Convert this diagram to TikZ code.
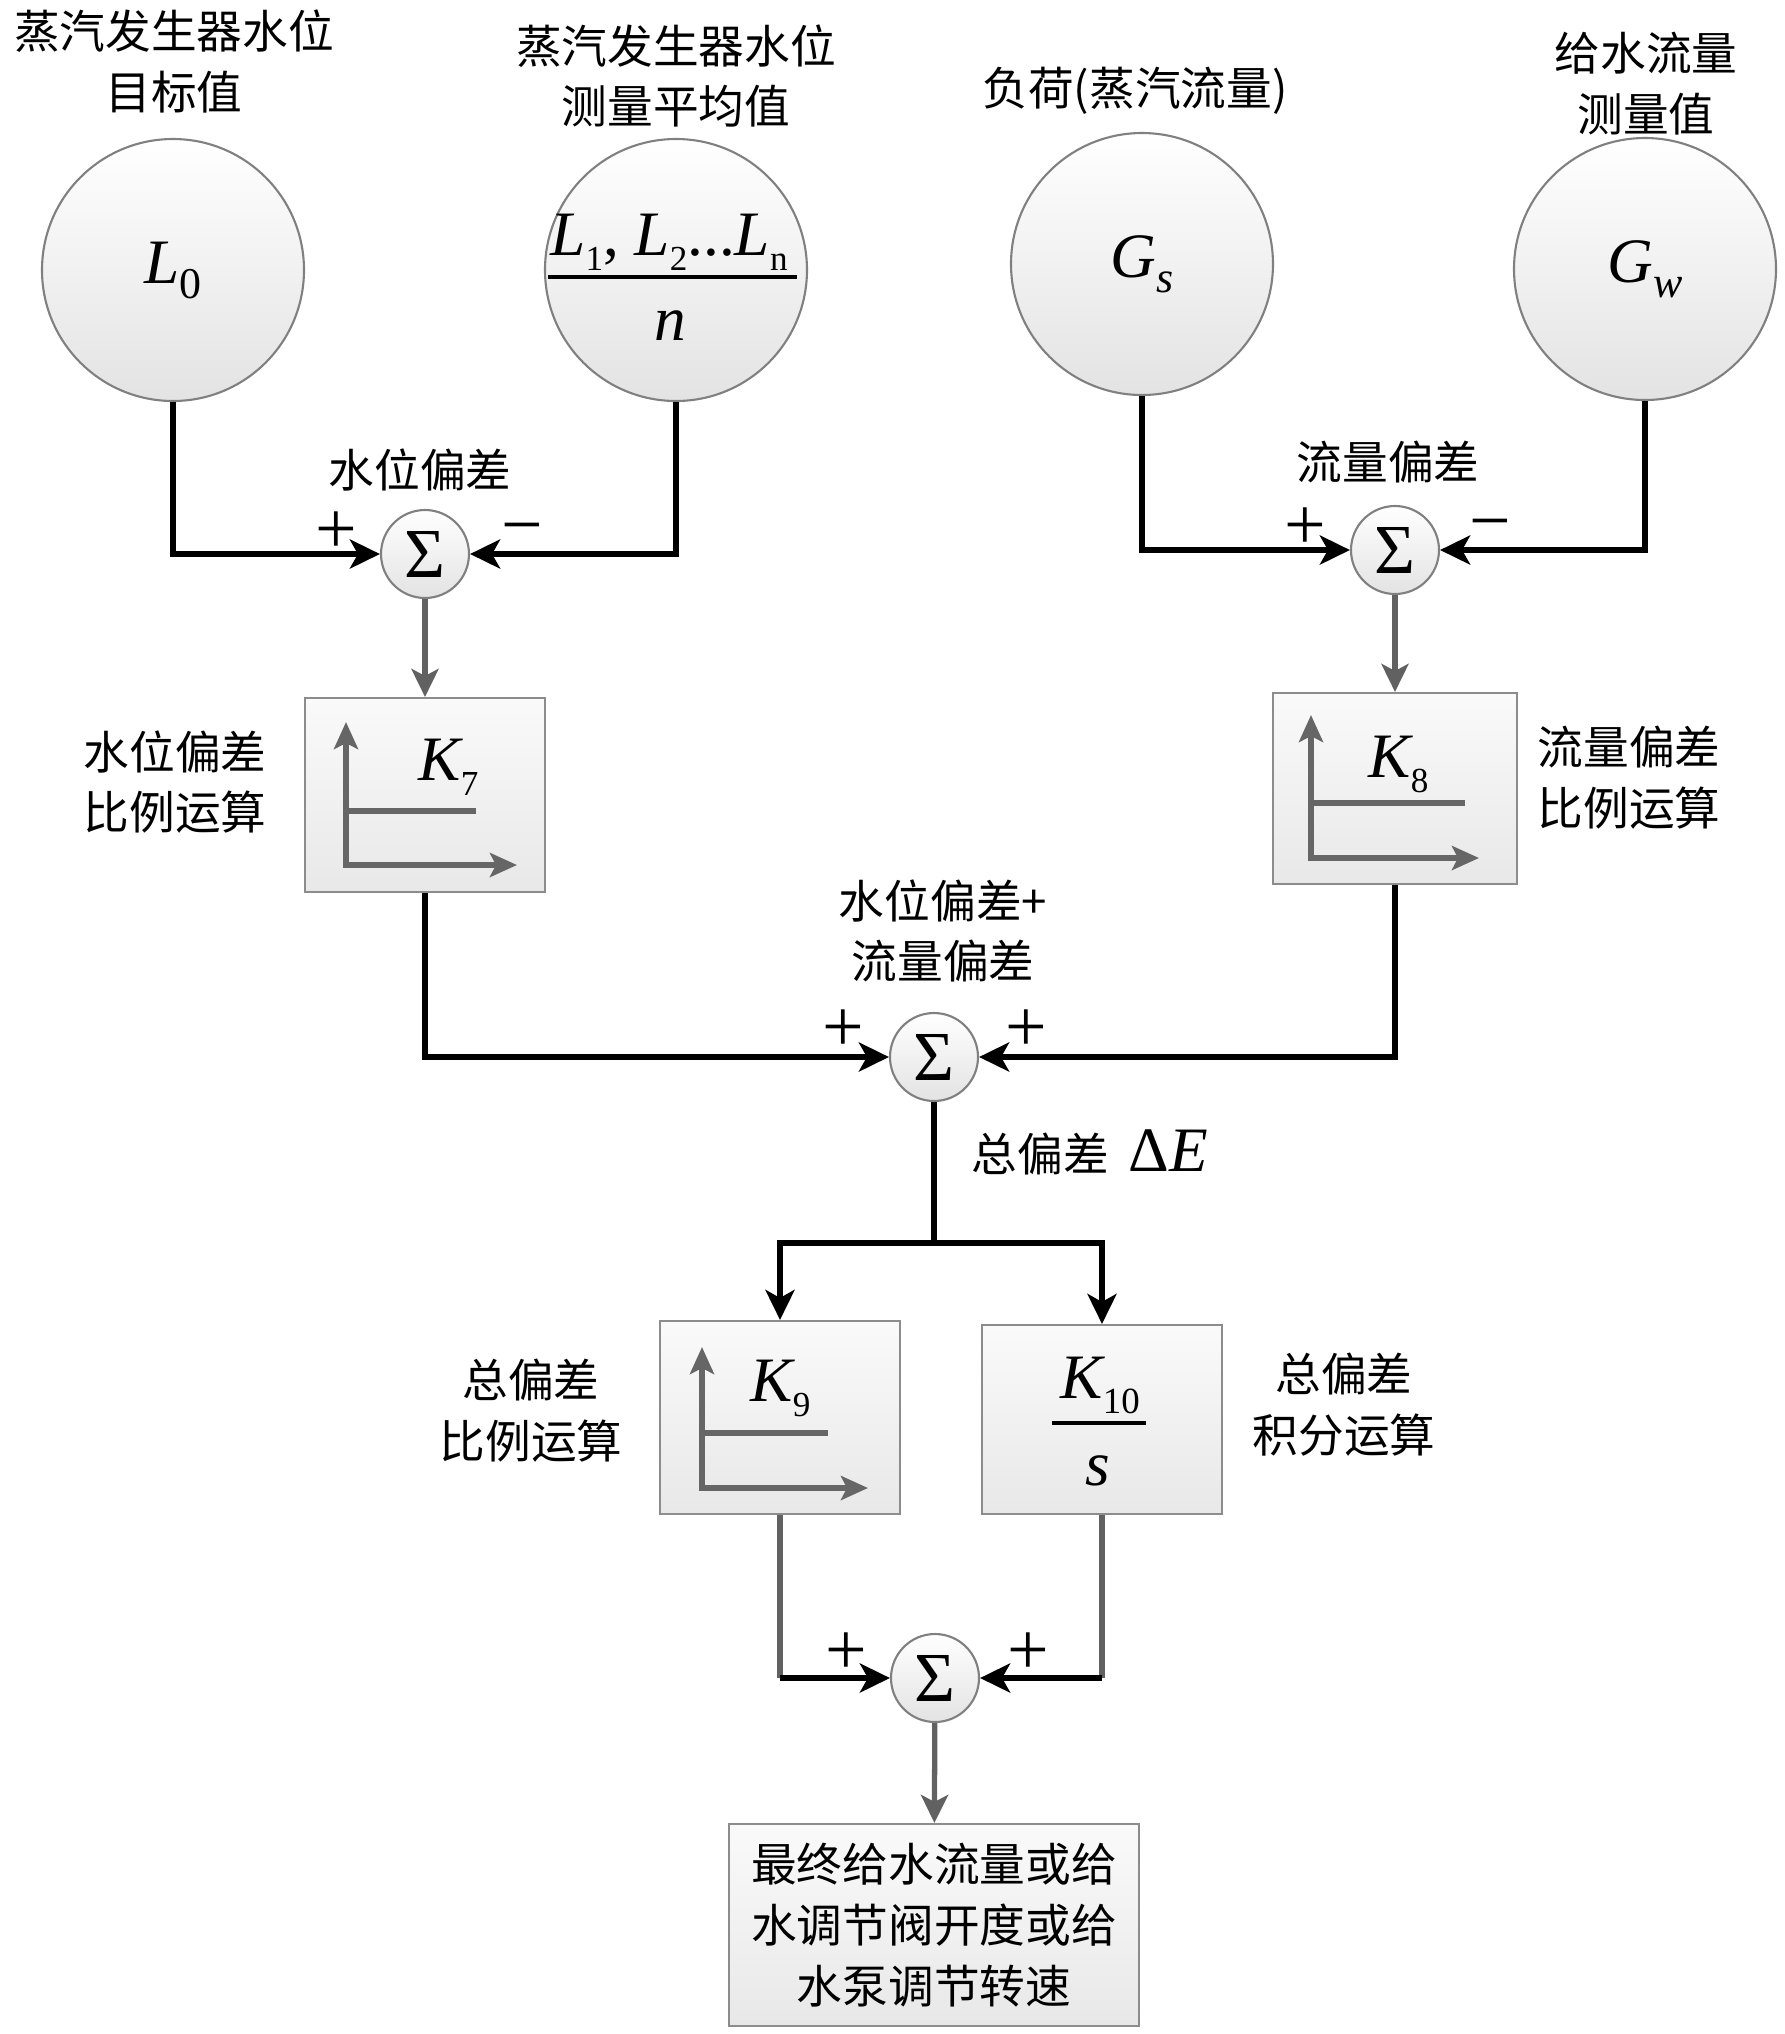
\documentclass[tikz,border=0pt]{standalone}
\usepackage{fontspec}
\setmainfont{Liberation Serif}
\newfontfamily\cjk{Noto Sans CJK SC}
\usetikzlibrary{arrows.meta}
\newcommand{\mvar}[1]{{\rmfamily\itshape\fontsize{18}{18}\selectfont #1}}
\newcommand{\mrm}[1]{{\rmfamily\upshape\fontsize{18}{18}\selectfont #1}}
\newcommand{\lsub}[2][12.5]{\raisebox{-0.15cm}{\rmfamily\upshape\fontsize{#1}{#1}\selectfont #2}}

\begin{document}
\begin{tikzpicture}[font=\cjk\fontsize{13}{17.3}\selectfont,
	srcnode/.style={circle, draw=black!50, line width=0.6pt, top color=white, bottom color=black!11, minimum size=2.62cm, inner sep=0pt},
	sumnode/.style={srcnode, minimum size=0.88cm, font=\rmfamily\fontsize{20}{20}\selectfont},
	blockbox/.style={rectangle, draw=black!45, line width=0.6pt, top color=black!2, bottom color=black!9, inner sep=0pt},
	sigline/.style={line width=1.6pt, draw=black, -{Stealth[length=0.3cm,width=0.29cm,inset=0.08cm]}},
	grayline/.style={line width=1.5pt, draw=black!62},
	grayarrow/.style={grayline, -{Stealth[length=0.28cm,width=0.27cm,inset=0.07cm]}},
	axisline/.style={line width=1.6pt, draw=black!60, {Stealth[length=0.27cm,width=0.24cm,inset=0.06cm]}-{Stealth[length=0.27cm,width=0.24cm,inset=0.06cm]}},
	stepline/.style={line width=1.6pt, draw=black!60},
	sign/.style={font=\rmfamily\fontsize{21}{21}\selectfont, inner sep=0pt}]
	\useasboundingbox (0,0) rectangle (17.85,-20.34);

	% measured inputs
	\node (L0) at ( 1.73, -2.70)	[srcnode]	{\mvar{L}\lsub{0}};
	\node (Lm) at ( 6.76, -2.70)	[srcnode]	{};
	\node (Gs) at (11.42, -2.64)	[srcnode]	{\mvar{G}\lsub{\itshape s}};
	\node (Gw) at (16.45, -2.69)	[srcnode]	{\mvar{G}\lsub{\itshape w}};
	\node (Lnum) at (6.69, -2.55)	[anchor=base]	{\mvar{L}\lsub[10]{1}\mrm{, }\mvar{L}\lsub[10]{2}\mrm{...}\mvar{L}\lsub[10]{n}};
	\draw[line width=1pt] (5.48,-2.77) -- (7.97,-2.77);
	\node (Lden) at (6.70, -3.40)	[anchor=base]	{\mvar{n}};

	\node (L0c) at ( 1.74, -0.615)	[align=center]	{蒸汽发生器水位\\目标值};
	\node (Lmc) at ( 6.76, -0.76)	[align=center]	{蒸汽发生器水位\\测量平均值};
	\node (Gsc) at (11.35, -0.91)	{负荷(蒸汽流量)};
	\node (Gwc) at (16.46, -0.835)	[align=center]	{给水流量\\测量值};

	% summing points
	\node (S1) at ( 4.25, -5.54)	[sumnode]	{Σ};
	\node (S2) at (13.95, -5.50)	[sumnode]	{Σ};
	\node (S3) at ( 9.34,-10.57)	[sumnode]	{Σ};
	\node (S4) at ( 9.35,-16.78)	[sumnode]	{Σ};
	\node (S1c) at ( 4.20, -4.70)	{水位偏差};
	\node (S2c) at (13.88, -4.62)	{流量偏差};
	\node (S3c) at ( 9.43, -9.31)	[align=center]	{水位偏差+\\流量偏差};
	\node (dE)  at (10.90,-11.52)	{总偏差\hspace{0.2cm}\mrm{Δ}\mvar{E}};

	\node (S1a) at ( 3.36, -5.33)	[sign]	{+};
	\node (S1b) at ( 5.22, -5.36)	[sign]	{−};
	\node (S2a) at (13.05, -5.29)	[sign]	{+};
	\node (S2b) at (14.90, -5.32)	[sign]	{−};
	\node (S3a) at ( 8.43,-10.31)	[sign]	{+};
	\node (S3b) at (10.26,-10.31)	[sign]	{+};
	\node (S4a) at ( 8.46,-16.54)	[sign]	{+};
	\node (S4b) at (10.28,-16.54)	[sign]	{+};

	% gain blocks
	\node (K7)  at ( 4.25, -7.95)	[blockbox, minimum width=2.40cm, minimum height=1.94cm]	{};
	\node (K8)  at (13.95, -7.885)	[blockbox, minimum width=2.445cm, minimum height=1.91cm]	{};
	\node (K9)  at ( 7.80,-14.175)	[blockbox, minimum width=2.40cm, minimum height=1.93cm]	{};
	\node (K10) at (11.02,-14.195)	[blockbox, minimum width=2.40cm, minimum height=1.89cm]	{};
	\node (Out) at ( 9.34,-19.25)	[blockbox, minimum width=4.10cm, minimum height=2.02cm, align=center]	{最终给水流量或给\\水调节阀开度或给\\水泵调节转速};

	\draw[axisline] (3.46,-7.22) -- (3.46,-8.65) -- (5.17,-8.65);
	\draw[stepline] (3.46,-8.11) -- (4.76,-8.11);
	\draw[axisline] (13.11,-7.15) -- (13.11,-8.58) -- (14.79,-8.58);
	\draw[stepline] (13.11,-8.03) -- (14.65,-8.03);
	\draw[axisline] (7.02,-13.47) -- (7.02,-14.88) -- (8.68,-14.88);
	\draw[stepline] (7.02,-14.33) -- (8.28,-14.33);

	\node (K7t)  at ( 4.18, -7.80)	[anchor=base west, inner sep=0pt]	{\mvar{K}\lsub[10]{7}};
	\node (K8t)  at (13.68, -7.77)	[anchor=base west, inner sep=0pt]	{\mvar{K}\lsub[10]{8}};
	\node (K9t)  at ( 7.50,-14.01)	[anchor=base west, inner sep=0pt]	{\mvar{K}\lsub[10]{9}};
	\node (K10t) at (10.60,-13.98)	[anchor=base west, inner sep=0pt]	{\mvar{K}\lsub[10.5]{10}};
	\draw[line width=1pt] (10.52,-14.23) -- (11.46,-14.23);
	\node (K10s) at (10.98,-14.85)	[anchor=base]	{\mvar{s}};

	\node (K7c)  at ( 1.75, -7.82)	[align=center]	{水位偏差\\比例运算};
	\node (K8c)  at (16.29, -7.775)	[align=center]	{流量偏差\\比例运算};
	\node (K9c)  at ( 5.31,-14.105)	[align=center]	{总偏差\\比例运算};
	\node (K10c) at (13.44,-14.045)	[align=center]	{总偏差\\积分运算};

	% connectors
	\draw[sigline] (L0) |- (S1);
	\draw[sigline] (Lm) |- (S1);
	\draw[sigline] (Gs) |- (S2);
	\draw[sigline] (Gw) |- (S2);
	\draw[grayarrow] (S1) -- (K7);
	\draw[grayarrow] (S2) -- (K8);
	\draw[sigline] (K7) |- (S3);
	\draw[sigline] (K8) |- (S3);
	\coordinate (Br) at (9.34,-12.43);
	\draw[line width=1.6pt] (S3) -- (Br);
	\draw[sigline] (Br) -| (K9);
	\draw[sigline] (Br) -| (K10);
	\coordinate (C9)  at (K9 |- S4);
	\coordinate (C10) at (K10 |- S4);
	\draw[grayline] (K9) -- (C9);
	\draw[grayline] (K10) -- (C10);
	\draw[sigline] (C9) -- (S4);
	\draw[sigline] (C10) -- (S4);
	\draw[grayarrow] (S4) -- (Out);
\end{tikzpicture}
\end{document}
